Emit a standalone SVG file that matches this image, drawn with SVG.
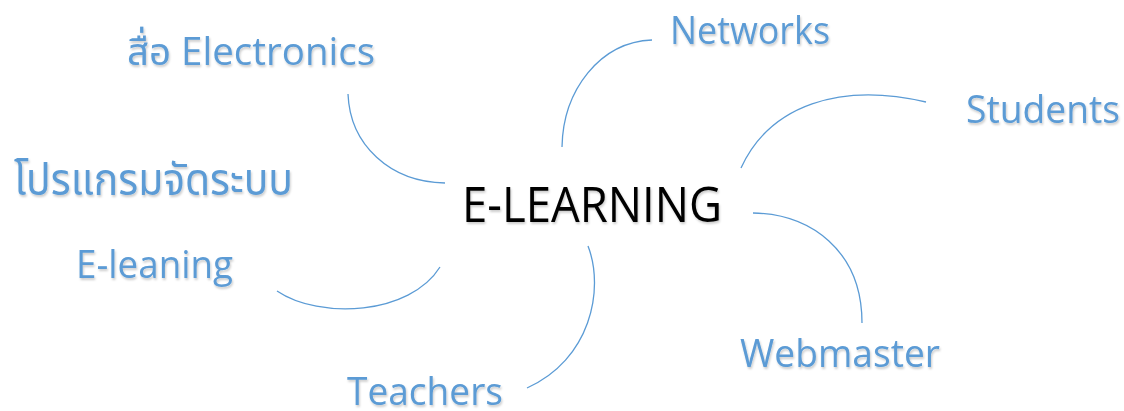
<svg xmlns="http://www.w3.org/2000/svg" width="1124" height="411" viewBox="0 0 1124 411">
<defs>
<style>
.lbl{font-family:"Open Sans","Noto Sans","Noto Sans Thai","DejaVu Sans",sans-serif;font-size:38px;fill:#5b9bd5;filter:url(#sh);}
.thai{font-size:44px;}
.main{font-family:"Open Sans","Noto Sans",sans-serif;font-size:50px;fill:#000;filter:url(#sh);}
.con{fill:none;stroke:#5b9bd5;stroke-width:1.3;}
</style>
<filter id="sh" x="-10%" y="-20%" width="120%" height="150%">
<feDropShadow dx="1" dy="2" stdDeviation="1.2" flood-color="#000" flood-opacity="0.2"/>
</filter>
</defs>
<rect width="1124" height="411" fill="#fff"/>
<g id="connectors">
<path class="con" d="M348,94 C350,145 390,182 445,183"/>
<path class="con" d="M562,147 C563,90 600,42 652,40"/>
<path class="con" d="M741,168 C770,105 840,82 926,102"/>
<path class="con" d="M753,213 C810,214 862,250 862,323"/>
<path class="con" d="M588,246 C605,290 590,360 527,388"/>
<path class="con" d="M277,291 C320,320 410,315 440,267"/>
</g>
<g id="center"><text class="main" x="462" y="222" textLength="260" lengthAdjust="spacingAndGlyphs">E-LEARNING</text></g>
<g id="electronics"><text class="lbl" x="127" y="65" textLength="248" lengthAdjust="spacingAndGlyphs">สื่อ Electronics</text></g>
<g id="networks"><text class="lbl" x="670" y="44" textLength="160" lengthAdjust="spacingAndGlyphs">Networks</text></g>
<g id="students"><text class="lbl" x="966" y="123" textLength="154" lengthAdjust="spacingAndGlyphs">Students</text></g>
<g id="program"><text class="lbl thai" x="14" y="195" textLength="279" lengthAdjust="spacingAndGlyphs">โปรแกรมจัดระบบ</text></g>
<g id="eleaning"><text class="lbl" x="76" y="278" textLength="157" lengthAdjust="spacingAndGlyphs">E-leaning</text></g>
<g id="webmaster"><text class="lbl" x="740" y="367" textLength="200" lengthAdjust="spacingAndGlyphs">Webmaster</text></g>
<g id="teachers"><text class="lbl" x="347" y="405" textLength="156" lengthAdjust="spacingAndGlyphs">Teachers</text></g>
</svg>
